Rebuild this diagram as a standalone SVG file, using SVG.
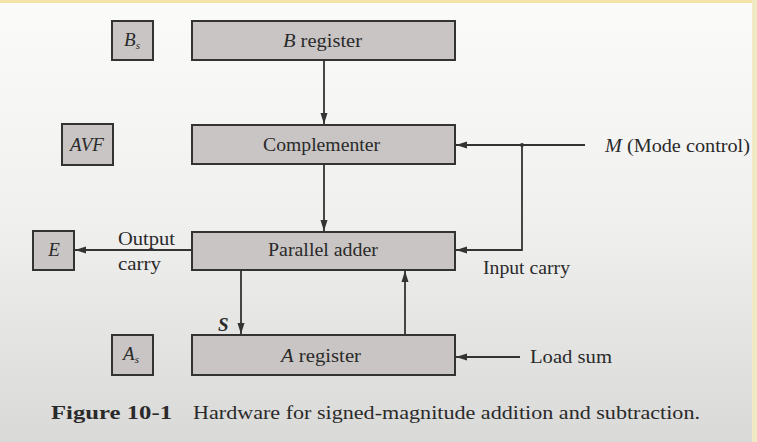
<svg xmlns="http://www.w3.org/2000/svg" width="757" height="442" viewBox="0 0 757 442">
<defs>
<linearGradient id="bg" x1="0" y1="0" x2="0" y2="1">
<stop offset="0" stop-color="#fbfbfa"/>
<stop offset="0.5" stop-color="#f0f0ef"/>
<stop offset="1" stop-color="#d9d9d8"/>
</linearGradient>
<marker id="ah" viewBox="0 0 10 10" refX="10" refY="5" markerWidth="11" markerHeight="11" markerUnits="userSpaceOnUse" orient="auto">
<path d="M0,1.8 L10,5 L0,8.2 Z" fill="#333"/>
</marker>
<style>
.box{fill:#c9c5c4;stroke:#333;stroke-width:2}
.t{font-family:"Liberation Serif","Times New Roman",serif;fill:#2a2a2a;font-size:19px}
.c{text-anchor:middle}
.ln{stroke:#333;stroke-width:1.8;fill:none}
</style>
</defs>
<rect width="757" height="442" fill="url(#bg)"/>
<rect x="0" y="0" width="757" height="3" fill="#f3e3a6"/>
<rect x="752" y="0" width="5" height="442" fill="#f1e8c4"/>

<g id="bs"><rect class="box" x="112" y="21" width="41" height="39"/><text class="t c" x="132" y="46" font-style="italic" font-size="18">B<tspan font-size="11" dy="3">s</tspan></text></g>
<g id="breg"><rect class="box" x="192" y="21" width="263" height="39"/><text class="t" x="283" y="47" textLength="79" lengthAdjust="spacingAndGlyphs"><tspan font-style="italic">B</tspan> register</text></g>
<g id="avf"><rect class="box" x="62" y="124" width="51" height="41"/><text class="t c" x="87" y="151" font-style="italic" font-size="17">AVF</text></g>
<g id="comp"><rect class="box" x="192" y="125" width="263" height="39"/><text class="t" x="263" y="151" textLength="117" lengthAdjust="spacingAndGlyphs">Complementer</text></g>
<g id="e"><rect class="box" x="33" y="231" width="41" height="39"/><text class="t c" x="54" y="256" font-style="italic" font-size="14">E</text></g>
<g id="adder"><rect class="box" x="192" y="232" width="263" height="38"/><text class="t" x="268" y="256" textLength="110" lengthAdjust="spacingAndGlyphs">Parallel adder</text></g>
<g id="as"><rect class="box" x="112" y="335" width="41" height="40"/><text class="t c" x="131" y="360" font-style="italic" font-size="17">A<tspan font-size="11" dy="3">s</tspan></text></g>
<g id="areg"><rect class="box" x="192" y="335" width="263" height="40"/><text class="t" x="281" y="362" textLength="80" lengthAdjust="spacingAndGlyphs"><tspan font-style="italic">A</tspan> register</text></g>

<g id="connectors">
<line class="ln" x1="324" y1="60" x2="324" y2="124" marker-end="url(#ah)"/>
<line class="ln" x1="324" y1="164" x2="324" y2="231" marker-end="url(#ah)"/>
<line class="ln" x1="192" y1="250" x2="75" y2="250" marker-end="url(#ah)"/>
<line class="ln" x1="241" y1="270" x2="241" y2="334" marker-end="url(#ah)"/>
<line class="ln" x1="405" y1="335" x2="405" y2="271" marker-end="url(#ah)"/>
<line class="ln" x1="585" y1="145" x2="456" y2="145" marker-end="url(#ah)"/>
<polyline class="ln" points="522,145 522,250 456,250" marker-end="url(#ah)"/>
<circle cx="522" cy="145" r="2" fill="#333"/>
<line class="ln" x1="520" y1="357" x2="456" y2="357" marker-end="url(#ah)"/>
</g>

<g id="labels">
<text class="t" x="118" y="245" textLength="57" lengthAdjust="spacingAndGlyphs">Output</text>
<text class="t" x="118" y="270" textLength="43" lengthAdjust="spacingAndGlyphs">carry</text>
<text class="t" x="218" y="331" font-style="italic" font-weight="bold" font-size="17">S</text>
<text class="t" x="605" y="152" textLength="145" lengthAdjust="spacingAndGlyphs"><tspan font-style="italic">M</tspan> (Mode control)</text>
<text class="t" x="483" y="274" textLength="87" lengthAdjust="spacingAndGlyphs">Input carry</text>
<text class="t" x="530" y="363" textLength="82" lengthAdjust="spacingAndGlyphs">Load sum</text>
<text class="t" x="51" y="419" font-weight="bold" textLength="121" lengthAdjust="spacingAndGlyphs">Figure 10-1</text>
<text class="t" x="193" y="419" textLength="507" lengthAdjust="spacingAndGlyphs">Hardware for signed-magnitude addition and subtraction.</text>
</g>
</svg>
